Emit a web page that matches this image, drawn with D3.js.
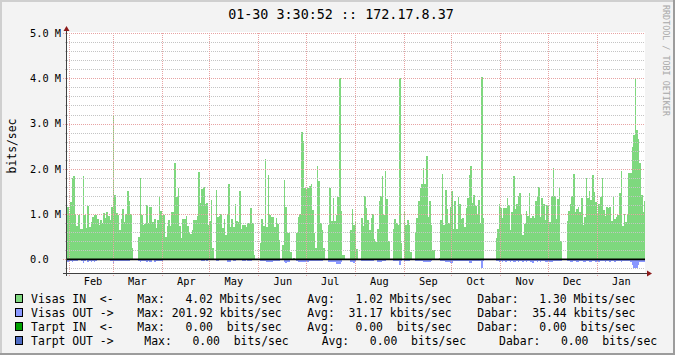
<!DOCTYPE html>
<html>
<head>
<meta charset="utf-8">
<script src="https://cdn.jsdelivr.net/npm/d3@7"></script>
<style>
  body { margin: 0; background: #f3f3f3; }
  svg { display: block; }
  text { font-family: "DejaVu Sans Mono", monospace; }
</style>
</head>
<body>
<div id="chart"></div>
<script>
// daily traffic, Mbits/sec, first day = 2009-01-31
const inVals = [
  1.15,0.99,1.26,1.80,1.84,0.99,0.73,0.97,0.68,0.68,
  1.84,0.97,0.69,1.18,0.72,0.83,0.93,0.98,0.98,0.89,
  0.77,0.87,0.80,1.03,0.91,1.05,0.95,0.86,1.16,3.18,
  1.42,1.03,0.97,0.66,0.90,1.11,0.83,1.00,1.51,1.28,
  1.00,0.25,0,0,0,0.50,1.80,0.97,0.77,0.78,
  1.20,0.80,1.16,1.16,0.83,0.90,0.70,0.86,1.39,1.08,
  0.95,
  0.97,0.50,0.74,0.86,0.74,1.05,1.05,2.14,1.38,1.58,
  0.74,0.48,0.89,0.89,0.96,0.74,0.61,0.57,0.65,0.87,
  0.87,0.96,1.93,1.25,1.55,1.59,1.23,1.24,0.75,0.85,
  1.32,0.25,0,1.53,0.93,0.95,1.00,0.69,0.89,0.55,
  1.00,1.67,0.71,0.89,0.72,1.22,0.84,0.82,1.51,0.68,
  0.76,0.77,0.72,0.80,0.80,1.14,0.80,0.10,0,0,
  0,
  0.36,0.89,0.74,2.22,0.72,1.87,0.97,0.94,0.94,0.72,
  0.91,0.79,0.43,0,0.32,1.75,1.16,0.59,0.59,0.16,
  0,0.03,0,0.59,0.93,1.01,2.82,2.62,1.58,1.54,
  1.58,1.62,1.66,1.09,0.59,0.25,2.06,1.73,0.81,0.66,
  0.25,0,0,0.76,1.58,0.84,1.36,0.84,0.99,1.38,
  4.00,1.08,0.10,0.10,0,0,0,0.65,1.11,0.77,
  0.85,
  0.23,0,0,0.91,0.74,1.40,1.14,0.87,0.66,0.91,
  1.00,0.45,0.39,0.67,1.30,1.40,1.84,0.98,1.95,1.33,
  0.41,0,0,0.67,0.89,0.80,0.76,4.00,0.37,0,
  1.06,0.77,0.87,0.77,0.16,0,0,0.60,0.91,1.30,
  1.58,1.67,2.02,1.67,2.29,0.94,1.30,0.77,0.21,0.21,
  0,0,0.03,0.87,1.89,0.77,1.53,1.11,0.80,1.16,
  1.50,
  0.67,1.28,0.67,1.38,1.22,0.89,0.91,0.72,1.14,1.36,
  1.87,2.06,1.25,1.43,1.19,0.99,1.31,0.81,4.02,0.91,
  0,0,0,0,0,0,0,0.47,0.67,1.22,
  1.14,0.91,1.14,1.14,1.36,1.20,0.66,1.05,1.84,1.11,
  1.22,1.41,1.47,1.00,0.54,0.78,1.07,0.96,1.47,0.91,
  0.96,0.91,1.29,1.39,1.60,0.94,1.36,1.22,0.86,1.21,
  1.19,0.83,1.40,2.02,1.40,0.89,1.33,1.60,0.41,0,
  0,0,0.85,1.07,1.22,1.40,1.89,1.05,1.11,1.16,
  1.05,1.36,0.77,0.94,1.80,1.36,1.51,1.31,1.87,1.49,
  1.27,0.98,1.22,1.38,1.80,1.09,0.96,1.16,1.14,1.16,
  0.85,1.38,0.89,0.94,0.97,1.47,1.95,0.74,1.00,0.83,
  1.00,1.91,1.91,2.49,2.74,4.00,2.86,2.66,2.14,1.42,
  1.05,1.29
];

const outVals = [
  0.05,0.05,0.04,0.05,0.04,0.04,0.03,0.02,0.02,0.03,
  0.08,0.04,0.02,0.05,0.04,0.05,0.04,0.05,0.04,0.02,
  0.02,0.02,0.02,0.02,0.02,0.02,0.02,0.03,0.03,0.08,
  0.03,0.04,0.04,0.04,0.03,0.04,0.04,0.03,0.04,0.04,
  0.02,0.01,0,0,0,0.03,0.05,0.04,0.04,0.04,
  0.05,0.04,0.05,0.05,0.02,0.05,0.03,0.04,0.04,0.03,
  0.03,
  0.01,0.01,0.01,0.01,0.01,0.01,0.01,0.02,0.01,0.01,
  0.01,0.01,0.01,0.01,0.01,0.01,0.01,0.01,0.01,0.01,
  0.01,0.01,0.01,0.01,0.04,0.04,0.01,0.04,0.01,0.01,
  0.01,0.01,0,0.04,0.04,0.01,0.01,0.01,0.01,0.01,
  0.05,0.05,0.05,0.01,0.04,0.04,0.01,0.01,0.01,0.01,
  0.04,0.04,0.01,0.04,0.04,0.04,0.01,0.01,0,0,
  0,
  0.04,0.04,0.04,0.04,0.05,0.05,0.05,0.05,0.04,0.04,
  0.04,0.04,0.04,0,0.02,0.05,0.08,0.05,0.05,0.02,
  0,0,0,0.04,0.05,0.05,0.05,0.05,0.05,0.05,
  0.05,0.04,0.04,0.04,0.04,0.04,0.04,0.04,0.04,0.04,
  0.01,0,0,0.05,0.05,0.05,0.05,0.05,0.10,0.10,
  0.10,0.05,0.01,0.01,0,0,0,0.05,0.05,0.08,
  0.05,
  0.02,0,0,0.04,0.04,0.04,0.04,0.04,0.03,0.03,
  0.03,0.02,0.02,0.05,0.05,0.05,0.04,0.04,0.04,0.02,
  0.02,0,0,0.04,0.04,0.04,0.04,0.12,0.04,0,
  0.04,0.04,0.04,0.04,0.01,0,0,0.04,0.04,0.04,
  0.04,0.04,0.05,0.05,0.05,0.05,0.05,0.03,0.01,0.01,
  0,0,0.01,0.04,0.04,0.04,0.05,0.05,0.06,0.07,
  0.07,
  0.04,0.03,0.04,0.04,0.03,0.04,0.04,0.03,0.04,0.04,
  0.08,0.08,0.04,0.04,0.04,0.04,0.04,0.03,0.20,0.03,
  0,0,0,0,0,0,0,0.03,0.04,0.05,
  0.04,0.05,0.04,0.06,0.04,0.04,0.05,0.04,0.05,0.06,
  0.04,0.05,0.04,0.04,0.05,0.04,0.06,0.04,0.04,0.05,
  0.07,0.04,0.04,0.06,0.04,0.05,0.04,0.04,0.05,0.05,
  0.06,0.06,0.05,0.03,0.03,0.03,0.03,0.03,0.03,0,
  0,0,0.03,0.04,0.05,0.05,0.04,0.04,0.05,0.05,
  0.04,0.04,0.05,0.05,0.04,0.04,0.05,0.05,0.04,0.04,
  0.06,0.04,0.05,0.04,0.04,0.04,0.05,0.04,0.04,0.05,
  0.04,0.04,0.06,0.04,0.04,0.04,0.05,0.04,0.04,0.04,
  0.04,0.04,0.06,0.12,0.18,0.18,0.18,0.12,0.05,0.05,
  0.05,0.05
];

const yMajorLabels = ["0.0", "1.0 M", "2.0 M", "3.0 M", "4.0 M", "5.0 M"];
const title = "01-30 3:30:52 :: 172.17.8.37";

const legendNames = ["Visas IN  <-", "Visas OUT ->", "Tarpt IN  <-", "Tarpt OUT ->"];
const legendColors = ["#7ed87e", "#8a98ff", "#00a000", "#4f6cc4"];
const legendMax = ["  4.02 Mbits/sec", "201.92 kbits/sec", "  0.00  bits/sec", "  0.00  bits/sec"];
const legendAvg = ["  1.02 Mbits/sec", " 31.17 kbits/sec", "  0.00  bits/sec", "  0.00  bits/sec"];
const legendLast = ["  1.30 Mbits/sec", " 35.44 kbits/sec", "  0.00  bits/sec", "  0.00  bits/sec"];

const width = 675;
const height = 355;
const plotLeft = 67, plotRight = 645, plotTop = 33, plotBottom = 273;

const svg = d3.select("#chart").append("svg")
    .attr("width", width)
    .attr("height", height);

// canvas with rrdtool style frame
svg.append("rect").attr("width", width).attr("height", height).attr("fill", "#f3f3f3");
svg.append("rect").attr("x", 0).attr("y", 0).attr("width", width).attr("height", 2).attr("fill", "#cfcfcf");
svg.append("rect").attr("x", 0).attr("y", 0).attr("width", 2).attr("height", height).attr("fill", "#cfcfcf");
svg.append("rect").attr("x", 0).attr("y", height - 2).attr("width", width).attr("height", 2).attr("fill", "#9c9c9c");
svg.append("rect").attr("x", width - 2).attr("y", 0).attr("width", 2).attr("height", height).attr("fill", "#9c9c9c");

const day0 = new Date(2009, 0, 31);
const x = d3.scaleTime()
    .domain([new Date(2009, 0, 31, 1), new Date(2010, 0, 31, 11, 30)])
    .range([plotLeft, plotRight]);
const y = d3.scaleLinear().domain([-0.3, 5]).range([plotBottom, plotTop]);

svg.append("rect")
    .attr("x", plotLeft).attr("y", plotTop - 1)
    .attr("width", plotRight - plotLeft).attr("height", plotBottom - plotTop + 1)
    .attr("fill", "#ffffff");

svg.append("clipPath").attr("id", "plotClip")
    .append("rect")
    .attr("x", plotLeft).attr("y", plotTop - 1)
    .attr("width", plotRight - plotLeft).attr("height", plotBottom - plotTop);

// build step series
function toSeries(vals) {
    const s = vals.map((v, i) => ({ t: d3.timeDay.offset(day0, i), v: v }));
    s.push({ t: d3.timeDay.offset(day0, vals.length), v: vals[vals.length - 1] });
    return s;
}

const inArea = d3.area()
    .curve(d3.curveStepAfter)
    .x(d => x(d.t))
    .y0(y(0))
    .y1(d => y(d.v));

const outArea = d3.area()
    .curve(d3.curveStepAfter)
    .x(d => x(d.t))
    .y0(y(0))
    .y1(d => y(-d.v));

const graph = svg.append("g").attr("clip-path", "url(#plotClip)");

graph.append("path")
    .attr("d", inArea(toSeries(inVals)))
    .attr("fill", legendColors[0])
    .attr("shape-rendering", "crispEdges");

graph.append("path")
    .attr("d", outArea(toSeries(outVals)))
    .attr("fill", legendColors[1])
    .attr("shape-rendering", "crispEdges");

// grid (drawn over the graph like rrdtool)
const grid = svg.append("g").attr("shape-rendering", "crispEdges");
const minorTicks = y.ticks(26).filter(v => Math.abs(v - Math.round(v)) > 1e-6);
const majorTicks = y.ticks(5).filter(v => v >= 0);

grid.selectAll(".minor").data(minorTicks).enter().append("line")
    .attr("x1", plotLeft - 2).attr("x2", plotRight)
    .attr("y1", d => Math.round(y(d)) + 0.5).attr("y2", d => Math.round(y(d)) + 0.5)
    .attr("stroke", "#c4c4c4")
    .attr("stroke-dasharray", "1,1");

grid.selectAll(".major").data(majorTicks).enter().append("line")
    .attr("x1", plotLeft - 4).attr("x2", plotRight)
    .attr("y1", d => Math.round(y(d)) + 0.5).attr("y2", d => Math.round(y(d)) + 0.5)
    .attr("stroke", "#e7a3a3")
    .attr("stroke-dasharray", "1,1");

const monthStarts = d3.timeMonth.range(x.domain()[0], x.domain()[1]);
grid.selectAll(".vmajor").data(monthStarts).enter().append("line")
    .attr("x1", d => Math.round(x(d)) + 0.5).attr("x2", d => Math.round(x(d)) + 0.5)
    .attr("y1", plotTop).attr("y2", plotBottom + 3)
    .attr("stroke", "#e7a3a3")
    .attr("stroke-dasharray", "1,1");

// zero line
svg.append("line")
    .attr("x1", plotLeft).attr("x2", plotRight)
    .attr("y1", y(0)).attr("y2", y(0))
    .attr("stroke", "#000")
    .attr("stroke-width", 1.7);

// axes
svg.append("line")
    .attr("x1", plotLeft - 4).attr("x2", plotRight + 3)
    .attr("y1", plotBottom + 0.5).attr("y2", plotBottom + 0.5)
    .attr("stroke", "#404040");
svg.append("line")
    .attr("x1", plotLeft - 0.5).attr("x2", plotLeft - 0.5)
    .attr("y1", plotBottom + 3).attr("y2", plotTop - 4)
    .attr("stroke", "#404040");
svg.append("path")
    .attr("d", `M${plotLeft - 0.5},${plotTop - 7} L${plotLeft - 3.5},${plotTop - 2} L${plotLeft + 2.5},${plotTop - 2} Z`)
    .attr("fill", "#8c1a1a");
svg.append("path")
    .attr("d", `M${plotRight + 7},${plotBottom + 0.5} L${plotRight + 2},${plotBottom - 2.5} L${plotRight + 2},${plotBottom + 3.5} Z`)
    .attr("fill", "#8c1a1a");

// y labels
svg.selectAll(".ylab").data(majorTicks).enter().append("text")
    .attr("x", 30)
    .attr("y", d => y(d) + 3.7)
    .attr("font-size", "10.3px")
    .attr("fill", "#000")
    .text((d, i) => yMajorLabels[i]);

// x labels, centred in each month
svg.selectAll(".xlab").data(monthStarts).enter().append("text")
    .attr("x", d => x(new Date(+d + 15.5 * 864e5)))
    .attr("y", 285)
    .attr("text-anchor", "middle")
    .attr("font-size", "10.3px")
    .attr("fill", "#000")
    .text(d => d3.timeFormat("%b")(d));

// title and axis title
svg.append("text")
    .attr("x", 341).attr("y", 19)
    .attr("text-anchor", "middle")
    .attr("font-size", "13.4px")
    .attr("fill", "#000")
    .style("white-space", "pre")
    .text(title);

svg.append("text")
    .attr("transform", "translate(16,146) rotate(-90)")
    .attr("text-anchor", "middle")
    .attr("font-size", "11.4px")
    .attr("fill", "#000")
    .text("bits/sec");

svg.append("text")
    .attr("transform", "translate(663,5) rotate(90)")
    .attr("font-size", "8.4px")
    .attr("fill", "#a8a8a8")
    .text("RRDTOOL / TOBI OETIKER");

// legend
const rowY = [303, 317, 331, 345];
const colX = [[137.3, 307.3, 477.3], [137.3, 307.3, 477.3], [137.3, 307.3, 477.3], [144.3, 321.7, 499]];
const legend = svg.append("g").attr("font-size", "11.43px").attr("fill", "#000");

legendNames.forEach((name, i) => {
    legend.append("rect")
        .attr("x", 15.5).attr("y", rowY[i] - 8.5)
        .attr("width", 7).attr("height", 8)
        .attr("fill", legendColors[i])
        .attr("stroke", "#000")
        .attr("stroke-width", 1);
    const pieces = [
        [31, name],
        [colX[i][0], "Max: " + legendMax[i]],
        [colX[i][1], "Avg: " + legendAvg[i]],
        [colX[i][2], "Dabar: " + legendLast[i]]
    ];
    pieces.forEach(p => {
        legend.append("text")
            .attr("x", p[0]).attr("y", rowY[i])
            .style("white-space", "pre")
            .text(p[1]);
    });
});
</script>
</body>
</html>
